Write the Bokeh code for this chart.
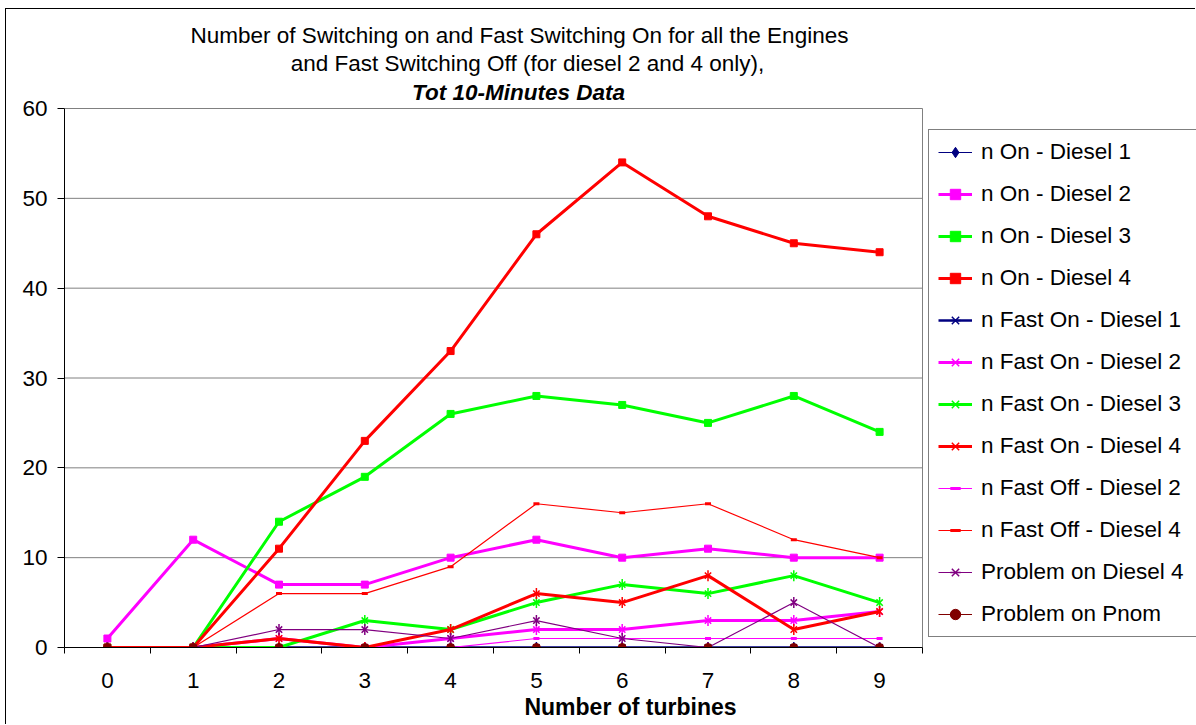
import math
from bokeh.plotting import figure
from bokeh.models import Range1d, FixedTicker, Legend, LegendItem, Label
from bokeh.embed import file_html
from bokeh.resources import INLINE

# Number of turbines (x categories)
turbines = [0, 1, 2, 3, 4, 5, 6, 7, 8, 9]

# Counts per series
n_on_d1 = [0, 0, 0, 0, 0, 0, 0, 0, 0, 0]
n_on_d2 = [1, 12, 7, 7, 10, 12, 10, 11, 10, 10]
n_on_d3 = [0, 0, 14, 19, 26, 28, 27, 25, 28, 24]
n_on_d4 = [0, 0, 11, 23, 33, 46, 54, 48, 45, 44]
fast_on_d1 = [0, 0, 0, 0, 0, 0, 0, 0, 0, 0]
fast_on_d2 = [0, 0, 1, 0, 1, 2, 2, 3, 3, 4]
fast_on_d3 = [0, 0, 0, 3, 2, 5, 7, 6, 8, 5]
fast_on_d4 = [0, 0, 1, 0, 2, 6, 5, 8, 2, 4]
fast_off_d2 = [0, 0, 0, 0, 0, 1, 1, 1, 1, 1]
fast_off_d4 = [0, 0, 6, 6, 9, 16, 15, 16, 12, 10]
problem_d4 = [0, 0, 2, 2, 1, 3, 1, 0, 5, 0]
problem_pnom = [0, 0, 0, 0, 0, 0, 0, 0, 0, 0]

y_ticks = [0, 10, 20, 30, 40, 50, 60]

title_lines = [
    "Number of Switching on and Fast Switching On for all the Engines",
    "and Fast Switching Off (for diesel 2 and 4 only),",
    "Tot 10-Minutes Data",
]
x_title = "Number of turbines"

FONT = "Liberation Sans"
TXT = "22.5px"
PAGE_W, PAGE_H = 1196, 725
OX, OY = 6, 9                      # canvas origin on the page (after margin + border)
CW, CH = PAGE_W - OX, PAGE_H - OY  # canvas size
PL, PR, PB = 64, 922, 647          # plot area (page px): left, right, bottom
PT = 108                           # page px of the top of the value axis

XA, XB = -0.5, 9.5                 # value-axis extent on x
YA, YB = 0, 60
PX_PER_X = (PR - PL) / (XB - XA)
PX_PER_Y = (PB - PT) / (YB - YA)


def px_x(px):
    return XA + (px - PL) / PX_PER_X


def px_y(py):
    return YA + (PB - py) / PX_PER_Y


# frame runs from the plot-area left/bottom to the canvas top/right edge,
# so the title and legend can live inside it
p = figure(width=CW, height=CH, output_backend="svg", toolbar_location=None,
           x_range=Range1d(XA, px_x(PAGE_W)), y_range=Range1d(YA, px_y(OY)),
           min_border_left=PL - OX, min_border_right=0,
           min_border_top=0, min_border_bottom=PAGE_H - PB)
p.title.visible = False
p.background_fill_color = "white"
p.border_fill_color = "white"
p.outline_line_color = None
p.margin = (OY - 1, 0, 0, OX - 1)
p.styles = {"border-left": "1px solid black", "border-top": "1px solid black"}

# axes
p.xaxis.ticker = FixedTicker(ticks=turbines,
                             minor_ticks=[t - 0.5 for t in turbines] + [turbines[-1] + 0.5])
p.xaxis.bounds = (XA, XB)
p.xaxis.major_tick_out = 0
p.xaxis.major_tick_in = 0
p.xaxis.minor_tick_out = 6
p.xaxis.minor_tick_in = 0
p.xaxis.minor_tick_line_color = "black"
p.xaxis.axis_label = x_title
p.xaxis.axis_label_text_font = FONT
p.xaxis.axis_label_text_font_style = "bold"
p.xaxis.axis_label_text_font_size = "23px"
p.xaxis.axis_label_text_color = "black"
p.xaxis.axis_label_standoff = 3
p.xaxis.major_label_standoff = 19

p.yaxis.ticker = FixedTicker(ticks=y_ticks)
p.yaxis.bounds = (YA, YB)
p.yaxis.major_tick_out = 7
p.yaxis.major_tick_in = 0
p.yaxis.minor_tick_out = 0
p.yaxis.minor_tick_in = 0
p.yaxis.major_label_standoff = 10

for ax in (p.xaxis, p.yaxis):
    ax.axis_line_color = "black"
    ax.axis_line_width = 1
    ax.major_tick_line_color = "black"
    ax.major_label_text_font = FONT
    ax.major_label_text_font_size = TXT
    ax.major_label_text_color = "black"

p.xgrid.visible = False
p.ygrid.visible = False

# horizontal gridlines and the plot-area's right edge
GRID = "#808080"
p.segment(x0=[XA] * len(y_ticks), y0=y_ticks, x1=[XB] * len(y_ticks), y1=y_ticks,
          line_color=GRID, line_width=1)
p.segment(x0=[XB], y0=[YA], x1=[XB], y1=[YB], line_color=GRID, line_width=1)

NAVY, MAG, LIME, RED, PURPLE, MAROON = "#000080", "#FF00FF", "#00FF00", "#FF0000", "#800080", "#800000"

series = [
    ("n On - Diesel 1", n_on_d1, NAVY, 1, "diamond"),
    ("n On - Diesel 2", n_on_d2, MAG, 3, "square"),
    ("n On - Diesel 3", n_on_d3, LIME, 3, "square"),
    ("n On - Diesel 4", n_on_d4, RED, 3, "square"),
    ("n Fast On - Diesel 1", fast_on_d1, NAVY, 2.5, "star"),
    ("n Fast On - Diesel 2", fast_on_d2, MAG, 3, "star"),
    ("n Fast On - Diesel 3", fast_on_d3, LIME, 3, "star"),
    ("n Fast On - Diesel 4", fast_on_d4, RED, 3, "star"),
    ("n Fast Off - Diesel 2", fast_off_d2, MAG, 1.2, "dash"),
    ("n Fast Off - Diesel 4", fast_off_d4, RED, 1.2, "dash"),
    ("Problem on Diesel 4", problem_d4, PURPLE, 1.2, "star"),
    ("Problem on Pnom", problem_pnom, MAROON, 1.2, "circle"),
]

items = []
for label, vals, color, lw, mk in series:
    rs = [p.line(turbines, vals, line_color=color, line_width=lw)]
    if mk == "square":
        rs.append(p.scatter(turbines, vals, marker="square", size=7,
                            fill_color=color, line_color=color))
    elif mk == "diamond":
        rs.append(p.scatter(turbines, vals, marker="diamond", size=9,
                            fill_color=color, line_color=color))
    elif mk == "circle":
        rs.append(p.scatter(turbines, vals, marker="circle", size=8,
                            fill_color=color, line_color=color))
    elif mk == "dash":
        rs.append(p.scatter(turbines, vals, marker="dash", size=6,
                            line_color=color, line_width=3))
    else:  # star: diagonal cross plus vertical bar
        rs.append(p.scatter(turbines, vals, marker="x", size=9,
                            line_color=color, line_width=1.5))
        rs.append(p.scatter(turbines, vals, marker="dash", size=11, angle=math.pi / 2,
                            line_color=color, line_width=1.5))
    items.append(LegendItem(label=label, renderers=rs))

ITEM_H, GAP, PAD = 26, 16, 9
LEG_H = len(items) * ITEM_H + (len(items) - 1) * GAP + 2 * PAD
LEG_LEFT, LEG_TOP = 928, 131
legend = Legend(items=items, location=(LEG_LEFT - PL, PB - (LEG_TOP + LEG_H)),
                label_text_font=FONT, label_text_font_size=TXT,
                label_text_color="black",
                glyph_width=34, glyph_height=ITEM_H, label_height=ITEM_H,
                label_width=260,
                spacing=GAP, padding=PAD, label_standoff=9, margin=0,
                border_line_color="black", border_line_width=1,
                background_fill_color="white", background_fill_alpha=1)
p.add_layout(legend)

# chart title, three centred lines
for i, (txt, cx, cy) in enumerate(zip(title_lines, [519, 527, 518], [35, 63, 92])):
    p.add_layout(Label(x=px_x(cx), y=px_y(cy), text=txt,
                       text_align="center", text_baseline="middle",
                       text_font=FONT, text_font_size=TXT, text_color="black",
                       text_font_style="bold italic" if i == 2 else "normal"))

open("out.html", "w").write(file_html(p, INLINE))
